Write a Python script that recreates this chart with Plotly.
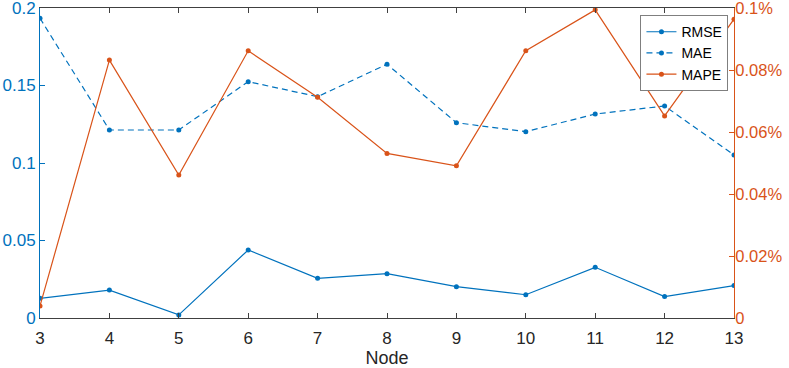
import plotly.graph_objects as go

nodes = [3, 4, 5, 6, 7, 8, 9, 10, 11, 12, 13]
rmse = [0.0127, 0.018, 0.002, 0.0439, 0.0256, 0.0286, 0.0202, 0.015, 0.0327, 0.0138, 0.0209]
mae = [0.1934, 0.1213, 0.1213, 0.1525, 0.1428, 0.1637, 0.126, 0.1202, 0.1316, 0.1368, 0.1052]
mape = [0.0039, 0.0832, 0.0461, 0.0862, 0.0712, 0.0531, 0.0491, 0.0862, 0.0994, 0.0652, 0.0964]  # percent

left_ticks = [0, 0.05, 0.1, 0.15, 0.2]
left_labels = ["0", "0.05", "0.1", "0.15", "0.2"]
right_ticks = [0, 0.02, 0.04, 0.06, 0.08, 0.1]
right_labels = ["0", "0.02%", "0.04%", "0.06%", "0.08%", "0.1%"]

BLUE = "#0072BD"
ORANGE = "#D95319"
FONT = "Liberation Sans, Arial, sans-serif"

fig = go.Figure()
fig.add_trace(go.Scatter(x=nodes, y=rmse, name="RMSE", mode="lines+markers",
                         line=dict(color=BLUE, width=1.2),
                         marker=dict(size=5, color=BLUE)))
fig.add_trace(go.Scatter(x=nodes, y=mae, name="MAE", mode="lines+markers",
                         line=dict(color=BLUE, width=1.2, dash="6px,4px"),
                         marker=dict(size=5, color=BLUE)))
fig.add_trace(go.Scatter(x=nodes, y=mape, name="MAPE", mode="lines+markers",
                         line=dict(color=ORANGE, width=1.2),
                         marker=dict(size=5, color=ORANGE), yaxis="y2"))

fig.update_layout(
    width=789, height=368,
    margin=dict(l=40, r=55, t=8, b=50),
    paper_bgcolor="white", plot_bgcolor="white",
    font=dict(family=FONT, size=17, color="#262626"),
    showlegend=True,
    legend=dict(x=0.992, y=0.977, xanchor="right", yanchor="top",
                bgcolor="white", bordercolor="#7f7f7f", borderwidth=1,
                font=dict(size=14, color="#000000"),
                tracegroupgap=0, itemwidth=30),
    xaxis=dict(range=[3, 13], tickvals=nodes, ticktext=[str(n) for n in nodes],
               showgrid=False, zeroline=False, showline=True, linecolor="#404040",
               linewidth=1, mirror="ticks", ticks="inside", ticklen=5, tickcolor="#404040",
               ticklabelstandoff=5, ticklabeloverflow="allow", automargin=False,
               title=dict(text="Node", font=dict(size=18, color="#262626"), standoff=9),
               tickfont=dict(size=17, color="#262626")),
    yaxis=dict(range=[0, 0.2], tickvals=left_ticks, ticktext=left_labels,
               showgrid=False, zeroline=False, showline=True, linecolor=BLUE,
               linewidth=1, ticks="inside", ticklen=5, tickcolor=BLUE,
               ticklabeloverflow="allow", automargin=False,
               tickfont=dict(size=17, color=BLUE)),
    yaxis2=dict(range=[0, 0.1], tickvals=right_ticks, ticktext=right_labels,
                overlaying="y", side="right",
                showgrid=False, zeroline=False, showline=True, linecolor=ORANGE,
                linewidth=1, ticks="inside", ticklen=5, tickcolor=ORANGE,
                ticklabeloverflow="allow", automargin=False, ticklabelstandoff=-3,
                tickfont=dict(size=16.5, color=ORANGE)),
)

fig.write_html("out.html", config={"displayModeBar": False},
               post_script=["document.body.style.margin='0';"])
